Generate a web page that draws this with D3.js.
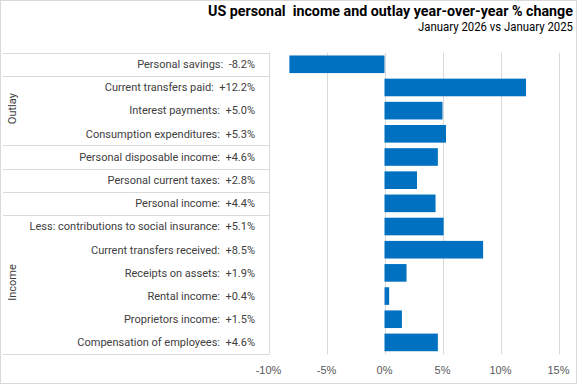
<!DOCTYPE html>
<html>
<head>
<meta charset="utf-8">
<script src="https://cdn.jsdelivr.net/npm/d3@7"></script>
<style>
  body { margin: 0; background: #fff; }
  svg { display: block; }
  .label { font-family: Roboto, "Liberation Sans", sans-serif; font-size: 11px; fill: #404040; }
  .tick-label { font-family: "Liberation Sans", Arial, sans-serif; font-size: 11px; fill: #595959; }
  .title { font-family: Roboto, "Liberation Sans", sans-serif; fill: #000; white-space: pre; }
</style>
</head>
<body>
<div id="chart"></div>
<script>
var titleText = "US personal  income and outlay year-over-year % change",
    subtitleText = "January 2026 vs January 2025";

var categories = [
    "Personal savings",
    "Current transfers paid",
    "Interest payments",
    "Consumption expenditures",
    "Personal disposable income",
    "Personal current taxes",
    "Personal income",
    "Less: contributions to social insurance",
    "Current transfers received",
    "Receipts on assets",
    "Rental income",
    "Proprietors income",
    "Compensation of employees"
];
var values = [-8.2, 12.2, 5.0, 5.3, 4.6, 2.8, 4.4, 5.1, 8.5, 1.9, 0.4, 1.5, 4.6];

var groupNames = ["Outlay", "Income"];
var groupFirst = ["Current transfers paid", "Less: contributions to social insurance"];
var groupLast = ["Consumption expenditures", "Compensation of employees"];

// table lines drawn below these rows
var dividerAfter = ["Personal savings", "Consumption expenditures", "Personal disposable income", "Personal current taxes", "Personal income"];

var xTicks = [-10, -5, 0, 5, 10, 15];

var width = 577,
    height = 385,
    plotTop = 52.7,
    plotBottom = 354,
    tableLeft = 3,
    labelRight = 255;

function fmt(v) {
    return (v > 0 ? "+" : "") + v.toFixed(1) + "%";
}

var svg = d3.select("#chart").append("svg")
    .attr("width", width)
    .attr("height", height);

svg.append("rect")
    .attr("x", 0.5).attr("y", 0.5)
    .attr("width", width - 1).attr("height", height - 2)
    .style("fill", "#fff")
    .style("stroke", "#d9d9d9");

var x = d3.scaleLinear()
    .domain([-10, 15])
    .range([268.5, 558.5]);

var y = d3.scaleBand()
    .domain(categories)
    .range([plotTop, plotBottom])
    .paddingInner(0.24)
    .paddingOuter(0.12);

var step = y.step();
function rowTop(c) { return y(c) - y.paddingInner() * step / 2; }
function rowBottom(c) { return rowTop(c) + step; }

// gridlines
svg.append("g").selectAll("line")
    .data(xTicks)
    .enter().append("line")
    .attr("x1", function(d) { return Math.round(x(d)) + 0.5; })
    .attr("x2", function(d) { return Math.round(x(d)) + 0.5; })
    .attr("y1", plotTop)
    .attr("y2", plotBottom)
    .style("stroke", "#d9d9d9")
    .style("stroke-width", 1);

// table lines
var lineYs = [plotTop, plotBottom].concat(dividerAfter.map(rowBottom));
svg.append("g").selectAll("line")
    .data(lineYs)
    .enter().append("line")
    .attr("x1", tableLeft)
    .attr("x2", Math.round(x(-10)) + 0.5)
    .attr("y1", function(d) { return Math.round(d) + 0.5; })
    .attr("y2", function(d) { return Math.round(d) + 0.5; })
    .style("stroke", "#d9d9d9");

// bars
svg.append("g").selectAll("rect")
    .data(values)
    .enter().append("rect")
    .attr("x", function(d) { return x(Math.min(0, d)); })
    .attr("y", function(d, i) { return y(categories[i]); })
    .attr("width", function(d) { return Math.abs(x(d) - x(0)); })
    .attr("height", y.bandwidth())
    .style("fill", "#0070c0");

// row labels
svg.append("g").selectAll("text")
    .data(values)
    .enter().append("text")
    .attr("class", "label")
    .attr("x", labelRight)
    .attr("y", function(d, i) { return y(categories[i]) + y.bandwidth() / 2; })
    .attr("dy", ".35em")
    .attr("text-anchor", "end")
    .style("white-space", "pre")
    .text(function(d, i) { return categories[i] + ":  " + fmt(d); });

// group labels
svg.append("g").selectAll("text")
    .data(groupNames)
    .enter().append("text")
    .attr("class", "label")
    .attr("transform", function(d, i) {
        var cy = (rowTop(groupFirst[i]) + rowBottom(groupLast[i])) / 2 - 2;
        return "translate(12," + cy + ") rotate(-90)";
    })
    .attr("dy", ".35em")
    .attr("text-anchor", "middle")
    .text(function(d) { return d; });

// x axis labels
svg.append("g").selectAll("text")
    .data(xTicks)
    .enter().append("text")
    .attr("class", "tick-label")
    .attr("x", function(d) { return x(d); })
    .attr("y", 370)
    .attr("dy", ".35em")
    .attr("text-anchor", "middle")
    .text(function(d) { return d + "%"; });

// titles, squeezed to the narrow face of the original
svg.append("text")
    .attr("class", "title")
    .attr("x", 573)
    .attr("y", 16)
    .attr("text-anchor", "end")
    .attr("textLength", 365)
    .attr("lengthAdjust", "spacingAndGlyphs")
    .style("font-size", "15.5px")
    .style("font-weight", "bold")
    .text(titleText);

svg.append("text")
    .attr("class", "title")
    .attr("x", 573)
    .attr("y", 31)
    .attr("text-anchor", "end")
    .attr("textLength", 155)
    .attr("lengthAdjust", "spacingAndGlyphs")
    .style("font-size", "12px")
    .text(subtitleText);
</script>
</body>
</html>
